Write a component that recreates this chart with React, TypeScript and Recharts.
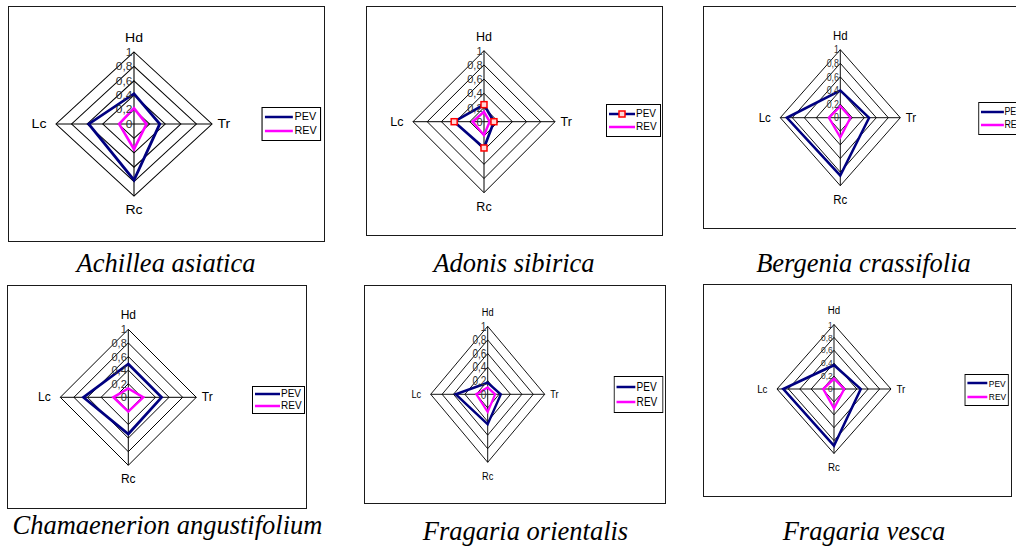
import React from 'react'
import { RadarChart, PolarGrid, PolarAngleAxis, PolarRadiusAxis, Radar, Legend } from 'recharts'

// radar axes, clockwise from the top
const axes = ['Hd', 'Tr', 'Rc', 'Lc']
const seriesNames = ['PEV', 'REV']
const radiusTicks = [0, 0.2, 0.4, 0.6, 0.8, 1]

const achilleaPEV = [0.42, 0.33, 0.78, 0.58]
const achilleaREV = [0.22, 0.16, 0.35, 0.19]
const adonisPEV = [0.24, 0.14, 0.37, 0.42]
const adonisREV = [0.14, 0.08, 0.19, 0.16]
const bergeniaPEV = [0.4, 0.48, 0.85, 0.89]
const bergeniaREV = [0.17, 0.17, 0.29, 0.19]
const chamaenerionPEV = [0.49, 0.49, 0.54, 0.66]
const chamaenerionREV = [0.13, 0.22, 0.21, 0.22]
const orientalisPEV = [0.17, 0.23, 0.44, 0.56]
const orientalisREV = [0.1, 0.13, 0.26, 0.2]
const vescaPEV = [0.37, 0.47, 0.88, 0.89]
const vescaREV = [0.16, 0.18, 0.3, 0.19]

const PEV_COLOR = '#000080'
const REV_COLOR = '#ff00ff'
const SANS = '"Liberation Sans", Arial, sans-serif'
const SERIF = '"Liberation Serif", "Times New Roman", serif'

// layout of each small chart (page pixels); hr/vr = horizontal/vertical radius
const panels = [
  { name: 'Achillea asiatica', pev: achilleaPEV, rev: achilleaREV, box: [8, 6, 317, 236], c: [134, 124], vr: 72, hr: 78, legend: [262, 107, 59, 34], labelFont: 13, tickFont: 11, legendFont: 10, legendLine: 26, markers: false, caption: [166, 272] },
  { name: 'Adonis sibirica', pev: adonisPEV, rev: adonisREV, box: [366, 6, 297, 230], c: [484, 121.7], vr: 71, hr: 71, legend: [606, 104, 55, 33], labelFont: 12.5, tickFont: 11, legendFont: 10, legendLine: 26, markers: true, caption: [514, 272] },
  { name: 'Bergenia crassifolia', pev: bergeniaPEV, rev: bergeniaREV, box: [703, 6, 330, 223], c: [840.3, 117.7], vr: 68, hr: 60, legend: [978, 102, 60, 33], labelFont: 13, tickFont: 10, legendFont: 10, legendLine: 26, markers: false, caption: [863.5, 272] },
  { name: 'Chamaenerion angustifolium', pev: chamaenerionPEV, rev: chamaenerionREV, box: [7, 285, 300, 224], c: [128.3, 397.3], vr: 68, hr: 68, legend: [252, 386, 53, 28], labelFont: 12, tickFont: 11, legendFont: 10, legendLine: 25, markers: false, caption: [167.5, 534] },
  { name: 'Fragaria orientalis', pev: orientalisPEV, rev: orientalisREV, box: [364, 285, 302, 219], c: [487.7, 394.3], vr: 68, hr: 57, legend: [614, 376, 49, 37], labelFont: 11, tickFont: 12, legendFont: 12, legendLine: 23, markers: false, caption: [525.5, 540] },
  { name: 'Fragaria vesca', pev: vescaPEV, rev: vescaREV, box: [703, 284, 309, 213], c: [834, 389], vr: 64.5, hr: 57, legend: [965, 374, 44, 32], labelFont: 11, tickFont: 9.5, legendFont: 9.5, legendLine: 23, markers: false, caption: [864, 539.5] },
]

function fmtTick(v: number) {
  if (v === 0) return '0'
  if (v === 1) return '1'
  return v.toFixed(1).replace('.', ',')
}

function SquareDot(props: any) {
  const { cx, cy } = props
  if (cx == null || cy == null) return null
  return <rect x={cx - 3} y={cy - 3} width={6} height={6} fill="#ffd8d8" stroke="#ff0000" strokeWidth={1.5} />
}

function Panel({ p }: { p: any }) {
  const [bx, by, bw, bh] = p.box
  const sx = p.hr / p.vr
  const w = bw / sx
  const cx = (p.c[0] - bx) / sx
  const cy = p.c[1] - by
  const [lx, ly, lw, lh] = p.legend
  const data = axes.map((a, i) => ({ axis: a, PEV: p.pev[i], REV: p.rev[i] }))

  const angleTick = (props: any) => {
    const v = props.payload?.value
    let x = cx
    let y = cy
    let anchor: any = 'middle'
    if (v === 'Hd') y = cy - p.vr - 14
    else if (v === 'Rc') y = cy + p.vr + 14
    else if (v === 'Tr') {
      x = cx + p.vr + 5.5 / sx
      anchor = 'start'
    } else {
      x = cx - p.vr - 9.5 / sx
      anchor = 'end'
    }
    return (
      <text x={x} y={y} textAnchor={anchor} dominantBaseline="central" fontSize={p.labelFont} fontFamily={SANS} fill="#000">
        {v}
      </text>
    )
  }

  const radiusTick = (props: any) => (
    <text
      x={props.x - 1.5}
      y={props.y}
      textAnchor="end"
      dominantBaseline="central"
      style={{ fontSize: p.tickFont, fontFamily: SANS }}
      fill="#333"
    >
      {fmtTick(Number(props.payload?.value))}
    </text>
  )

  const legendContent = () => (
    <div
      style={{
        width: lw / sx,
        height: lh,
        border: '1px solid #000',
        boxSizing: 'border-box',
        background: '#fff',
        display: 'flex',
        flexDirection: 'column',
        justifyContent: 'space-evenly',
        paddingLeft: 2,
        fontFamily: SANS,
        fontSize: p.legendFont,
        color: '#000',
      }}
    >
      {seriesNames.map((n) => {
        const color = n === 'PEV' ? PEV_COLOR : REV_COLOR
        return (
          <div key={n} style={{ display: 'flex', alignItems: 'center', lineHeight: 1, whiteSpace: 'nowrap' }}>
            <svg width={p.legendLine} height={8} style={{ display: 'block' }}>
              <line x1={0} y1={4} x2={p.legendLine} y2={4} stroke={color} strokeWidth={2.5} />
              {p.markers && n === 'PEV' && (
                <rect x={p.legendLine / 2 - 3} y={1} width={6} height={6} fill="#ffd8d8" stroke="#ff0000" strokeWidth={1.5} />
              )}
            </svg>
            <span style={{ marginLeft: 1 }}>{n}</span>
          </div>
        )
      })}
    </div>
  )

  return (
    <>
      <div style={{ position: 'absolute', left: bx, top: by, width: bw, height: bh, overflow: 'hidden' }}>
        <div style={{ width: w, height: bh, transform: `scaleX(${sx})`, transformOrigin: '0 0' }}>
          <RadarChart width={w} height={bh} data={data} cx={cx} cy={cy} outerRadius={p.vr} margin={{ top: 0, right: 0, bottom: 0, left: 0 }}>
            <PolarGrid stroke="#000" strokeWidth={1} />
            <PolarAngleAxis dataKey="axis" tick={angleTick} tickLine={false} axisLine={false} />
            <PolarRadiusAxis
              angle={90}
              type="number"
              domain={[0, 1]}
              ticks={radiusTicks as any}
              tickCount={6}
              axisLine={false}
              tick={radiusTick}
            />
            <Radar
              dataKey="PEV"
              stroke={PEV_COLOR}
              strokeWidth={2.7}
              fill="none"
              fillOpacity={0}
              dot={p.markers ? <SquareDot /> : false}
              isAnimationActive={false}
            />
            <Radar dataKey="REV" stroke={REV_COLOR} strokeWidth={2.5} fill="none" fillOpacity={0} dot={false} isAnimationActive={false} />
            <Legend
              content={legendContent}
              wrapperStyle={{ left: (lx - bx) / sx, top: ly - by, width: lw / sx, height: lh, bottom: 'auto' }}
            />
          </RadarChart>
        </div>
      </div>
      <div
        style={{
          position: 'absolute',
          left: bx,
          top: by,
          width: bw,
          height: bh,
          border: '1.5px solid #1a1a1a',
          boxSizing: 'border-box',
          pointerEvents: 'none',
        }}
      />
    </>
  )
}

export default function App() {
  return (
    <div style={{ position: 'absolute', left: 0, top: 0, width: 1016, height: 549, background: '#fff', overflow: 'hidden' }}>
      {panels.map((p) => (
        <Panel key={p.name} p={p} />
      ))}
      <svg width={1016} height={549} style={{ position: 'absolute', left: 0, top: 0, pointerEvents: 'none' }}>
        {panels.map((p) => (
          <text key={p.name} x={p.caption[0]} y={p.caption[1]} textAnchor="middle" fontFamily={SERIF} fontStyle="italic" fontSize={26.5} fill="#000">
            {p.name}
          </text>
        ))}
      </svg>
    </div>
  )
}
